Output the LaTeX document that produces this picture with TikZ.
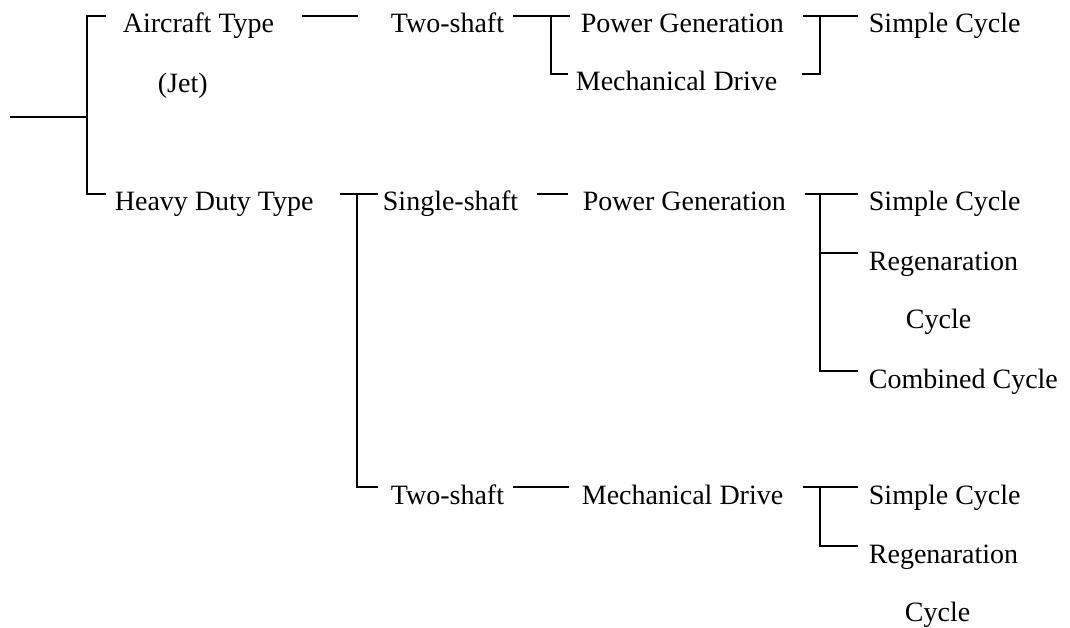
\documentclass[tikz,border=0pt]{standalone}
\usepackage{fontspec}
\setmainfont{Liberation Serif}
\usetikzlibrary{calc}

\begin{document}
\begin{tikzpicture}[x=1pt,y=-1pt,line width=1.8pt,
  lbl/.style={anchor=base west,inner sep=0pt,text height=16pt,text depth=0pt,
    font=\fontsize{28}{34}\selectfont}]
\useasboundingbox (0,0) rectangle (1070,628);
\node[lbl] (Air) at (122,33) {Aircraft Type};
\node[lbl] (Jet) at (157,93) {(Jet)};
\node[lbl] (Heavy) at (114,211) {Heavy Duty Type};
\node[lbl] (TwoA) at (390,33) {Two-shaft};
\node[lbl] (PGA) at (580,33) {Power Generation};
\node[lbl] (MDA) at (575,91) {Mechanical Drive};
\node[lbl] (SCA) at (868,33) {Simple Cycle};
\node[lbl] (Single) at (382,211) {Single-shaft};
\node[lbl] (PGB) at (582,211) {Power Generation};
\node[lbl] (SCB) at (868,211) {Simple Cycle};
\node[lbl] (RegB) at (868,270) {Regenaration};
\node[lbl] (CycB) at (905,328) {Cycle};
\node[lbl] (Comb) at (868,388) {Combined Cycle};
\node[lbl] (TwoC) at (390,504) {Two-shaft};
\node[lbl] (MDC) at (581,504) {Mechanical Drive};
\node[lbl] (SCC) at (868,504) {Simple Cycle};
\node[lbl] (RegC) at (868,563) {Regenaration};
\node[lbl] (CycC) at (904,621) {Cycle};
\coordinate (Root) at (10,117);
\coordinate (J0) at (87,117);
\draw (Root) -- (J0);
\draw ([xshift=-16pt]Air.north west) -| (J0) |- ([xshift=-8pt]Heavy.north west);
\draw ([xshift=27pt]Air.north east) -- ([xshift=-32pt]TwoA.north west);
\draw ([xshift=8pt]TwoA.north east) -- ([xshift=-10pt]PGA.north west);
\draw ([xshift=-29pt]PGA.north west) |- ([xshift=-7pt]MDA.north west);
\draw ([xshift=18pt]PGA.north east) -- ([xshift=-10pt]SCA.north west);
\draw ([xshift=-48pt]SCA.north west) |- ([xshift=24pt]MDA.north east);
\draw ([xshift=26pt]Heavy.north east) -- ([xshift=-4pt]Single.north west);
\draw ([xshift=-25pt]Single.north west) |- ([xshift=-12pt]TwoC.north west);
\draw ([xshift=18pt]Single.north east) -- ([xshift=-14pt]PGB.north west);
\draw ([xshift=18pt]PGB.north east) -- ([xshift=-10pt]SCB.north west);
\draw ([xshift=-48pt]SCB.north west) |- ([xshift=-10pt]Comb.north west);
\draw ([xshift=-48pt]RegB.north west) -- ([xshift=-10pt]RegB.north west);
\draw ([xshift=8pt]TwoC.north east) -- ([xshift=-12pt]MDC.north west);
\draw ([xshift=19pt]MDC.north east) -- ([xshift=-10pt]SCC.north west);
\draw ([xshift=-48pt]SCC.north west) |- ([xshift=-10pt]RegC.north west);
\end{tikzpicture}
\end{document}
